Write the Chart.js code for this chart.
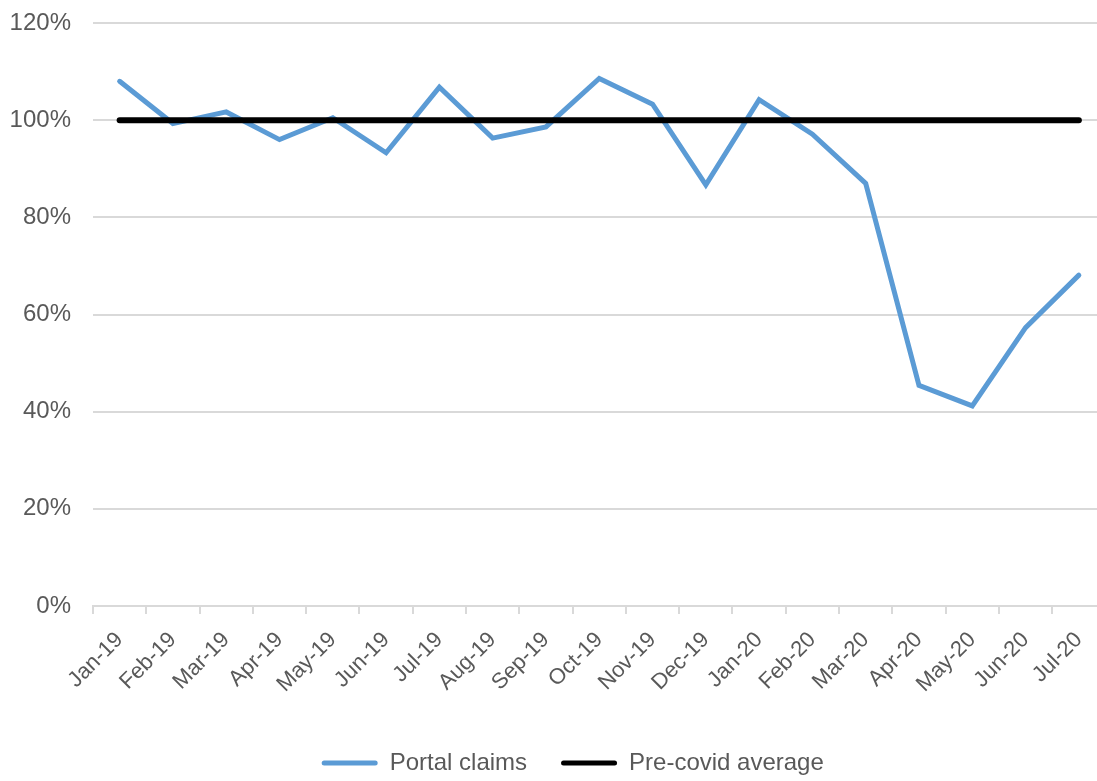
<!DOCTYPE html>
<html>
<head>
<meta charset="utf-8">
<script src="https://cdn.jsdelivr.net/npm/chart.js@4"></script>
<style>
  html, body { margin: 0; padding: 0; background: #fff; overflow: hidden; }
  #wrap { position: relative; width: 1108px; height: 781px; }
</style>
</head>
<body>
<div id="wrap"><canvas id="c" width="1108" height="781"></canvas></div>
<script>
const categories = ["Jan-19","Feb-19","Mar-19","Apr-19","May-19","Jun-19","Jul-19","Aug-19","Sep-19","Oct-19","Nov-19","Dec-19","Jan-20","Feb-20","Mar-20","Apr-20","May-20","Jun-20","Jul-20"];
const portalClaims = [108, 99.3, 101.7, 96, 100.5, 93.3, 106.8, 96.3, 98.6, 108.6, 103.3, 86.7, 104.2, 97.1, 87, 45.4, 41.2, 57.3, 68.1];
const preCovidAverage = [100,100,100,100,100,100,100,100,100,100,100,100,100,100,100,100,100,100,100];
const yTicks = [0, 20, 40, 60, 80, 100, 120];

const FONT = "'Liberation Sans', Arial, sans-serif";
const GREY_TEXT = '#595959';
const GRID = '#d9d9d9';

const legendShift = {
  id: 'legendShift',
  afterLayout(chart) { if (chart.legend) { chart.legend.left += 40; } }
};

new Chart(document.getElementById('c'), {
  type: 'line',
  plugins: [legendShift],
  data: {
    labels: categories,
    datasets: [
      {
        label: 'Portal claims',
        data: portalClaims,
        borderColor: '#5b9bd5',
        backgroundColor: '#5b9bd5',
        borderWidth: 5,
        pointRadius: 0,
        tension: 0,
        borderCapStyle: 'round',
        order: 1
      },
      {
        label: 'Pre-covid average',
        data: preCovidAverage,
        borderColor: '#000000',
        backgroundColor: '#000000',
        borderWidth: 6,
        pointRadius: 0,
        tension: 0,
        borderCapStyle: 'round',
        order: 0
      }
    ]
  },
  options: {
    responsive: false,
    animation: false,
    layout: { padding: { left: 0, right: 2.5, top: 23, bottom: 0 } },
    plugins: {
      tooltip: { enabled: false },
      legend: {
        position: 'bottom',
        fullSize: true,
        maxHeight: 64,
        labels: {
          color: GREY_TEXT,
          font: { family: FONT, size: 24 },
          boxWidth: 56,
          boxHeight: 5,
          padding: 34,
          sort: (a, b) => a.datasetIndex - b.datasetIndex,
          generateLabels(chart) {
            const items = Chart.defaults.plugins.legend.labels.generateLabels(chart);
            items.forEach(it => { it.lineWidth = 0; it.fillStyle = it.strokeStyle; it.borderRadius = 2.5; });
            return items;
          }
        }
      }
    },
    scales: {
      x: {
        offset: true,
        afterFit(axis) { axis.paddingLeft = 0; axis.paddingRight = 0; axis.height = 111; },
        grid: {
          display: true,
          offset: true,
          drawOnChartArea: false,
          drawTicks: true,
          tickLength: 8,
          color: GRID,
          lineWidth: 2
        },
        border: { display: true, color: GRID, width: 2 },
        ticks: {
          color: GREY_TEXT,
          font: { family: FONT, size: 22 },
          minRotation: 45,
          maxRotation: 45,
          autoSkip: false,
          padding: 13
        }
      },
      y: {
        min: 0,
        max: 120,
        afterBuildTicks(axis) { axis.ticks = yTicks.map(v => ({ value: v })); },
        afterFit(axis) { axis.width = 93; axis.paddingTop = 0; axis.paddingBottom = 0; },
        grid: { color: GRID, lineWidth: 2, drawTicks: false },
        border: { display: false },
        ticks: {
          color: GREY_TEXT,
          font: { family: FONT, size: 24 },
          padding: 22,
          callback: v => v + '%'
        }
      }
    }
  }
});
</script>
</body>
</html>
